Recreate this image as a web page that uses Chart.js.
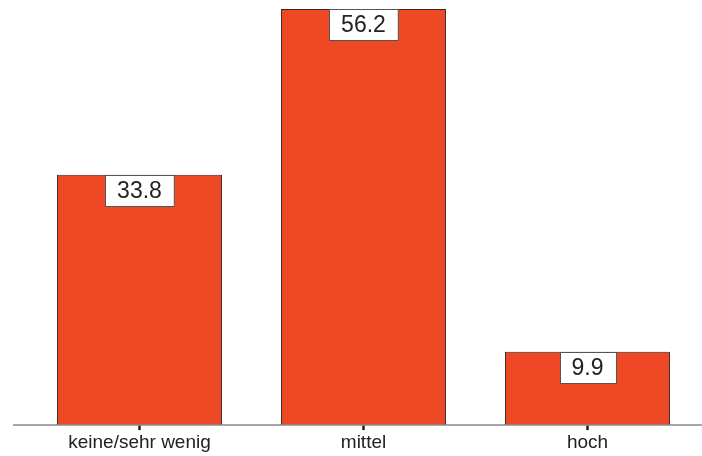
<!DOCTYPE html>
<html>
<head>
<meta charset="utf-8">
<script src="https://cdn.jsdelivr.net/npm/chart.js@4"></script>
<style>
  html, body { margin: 0; padding: 0; background: #fff; }
  #wrap { width: 702px; height: 456px; }
</style>
</head>
<body>
<div id="wrap"><canvas id="barChart" width="702" height="456"></canvas></div>
<script>
const categories = ['keine/sehr wenig', 'mittel', 'hoch'];
const values = [33.8, 56.2, 9.9];

// baseline across the whole width, like the original
const baseline = {
  id: 'baseline',
  afterDatasetsDraw(chart) {
    const ctx = chart.ctx;
    const y = chart.scales.y.getPixelForValue(0);
    ctx.save();
    ctx.strokeStyle = '#8a8a8a';
    ctx.lineWidth = 1.5;
    ctx.beginPath();
    ctx.moveTo(13, y);
    ctx.lineTo(702, y);
    ctx.stroke();
    ctx.restore();
  }
};

// white value boxes sitting on top of each bar
const valueBoxes = {
  id: 'valueBoxes',
  afterDatasetsDraw(chart) {
    const ctx = chart.ctx;
    const meta = chart.getDatasetMeta(0);
    ctx.save();
    ctx.font = '23px "Liberation Sans", Arial, sans-serif';
    ctx.textAlign = 'center';
    ctx.textBaseline = 'middle';
    meta.data.forEach((bar, i) => {
      const txt = values[i].toFixed(1);
      const w = ctx.measureText(txt).width + 24;
      const h = 31;
      const x = Math.round(bar.x - w / 2) + 0.5;
      const y = Math.round(bar.y) + 0.5;
      ctx.fillStyle = '#fff';
      ctx.fillRect(x, y, w, h);
      ctx.strokeStyle = '#555';
      ctx.lineWidth = 1;
      ctx.strokeRect(x, y, w, h);
      ctx.fillStyle = '#222';
      ctx.fillText(txt, bar.x, y + h / 2 + 1);
    });
    ctx.restore();
  }
};

new Chart(document.getElementById('barChart'), {
  type: 'bar',
  data: {
    labels: categories,
    datasets: [{
      data: values,
      backgroundColor: '#ee4924',
      borderColor: '#2a2a2a',
      borderWidth: 1,
      borderSkipped: 'start',
      barPercentage: 0.737,
      categoryPercentage: 1.0
    }]
  },
  options: {
    responsive: false,
    animation: false,
    layout: { padding: { left: 27.5, right: 2.5, top: 0, bottom: 0 } },
    plugins: {
      legend: { display: false },
      tooltip: { enabled: false }
    },
    scales: {
      y: {
        display: false,
        min: 0,
        max: 57.4
      },
      x: {
        offset: true,
        border: { display: false },
        grid: {
          offset: false,
          drawOnChartArea: false,
          drawTicks: true,
          tickLength: 5,
          tickWidth: 2.5,
          tickColor: '#222'
        },
        ticks: {
          color: '#222',
          padding: 3,
          font: { family: '"Liberation Sans", Arial, sans-serif', size: 19, lineHeight: 1.05 }
        }
      }
    }
  },
  plugins: [baseline, valueBoxes]
});
</script>
</body>
</html>
